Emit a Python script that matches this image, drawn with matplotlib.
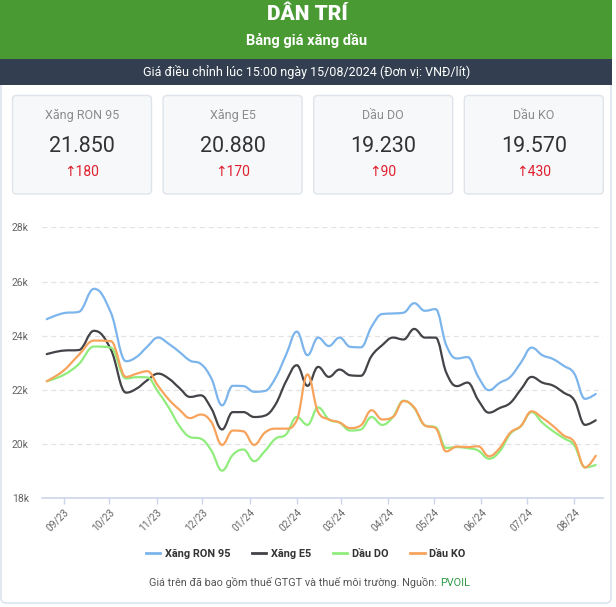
import matplotlib
matplotlib.use("Agg")
import matplotlib.pyplot as plt
import matplotlib.dates as mdates
from matplotlib.path import Path
from matplotlib.patches import PathPatch, FancyBboxPatch, Rectangle
from matplotlib.lines import Line2D
import pandas as pd

plt.rcParams['font.family'] = ['Roboto', 'DejaVu Sans']

# ---------------- data ----------------
dates = ["2023-08-21", "2023-09-01", "2023-09-11", "2023-09-21", "2023-10-02", "2023-10-12",
         "2023-10-19", "2023-10-26", "2023-11-02", "2023-11-09", "2023-11-16", "2023-11-23",
         "2023-11-30", "2023-12-07", "2023-12-14", "2023-12-21", "2023-12-28", "2024-01-04",
         "2024-01-11", "2024-01-18", "2024-01-25", "2024-02-01", "2024-02-08", "2024-02-15",
         "2024-02-22", "2024-02-29", "2024-03-07", "2024-03-14", "2024-03-21", "2024-03-28",
         "2024-04-04", "2024-04-11", "2024-04-18", "2024-04-25", "2024-05-02", "2024-05-09",
         "2024-05-16", "2024-05-23", "2024-05-30", "2024-06-06", "2024-06-13", "2024-06-20",
         "2024-06-27", "2024-07-04", "2024-07-11", "2024-07-18", "2024-07-25", "2024-08-01",
         "2024-08-08", "2024-08-15"]

ron95 = [24610, 24830, 24880, 25730, 24860, 23060, 23220, 23600, 23930, 23700, 23400, 23080,
         22960, 22420, 21430, 22150, 22140, 21930, 21960, 22440, 23300, 24150, 23280, 23930,
         23620, 23930, 23590, 23570, 24330, 24800, 24820, 24850, 25200, 24920, 24980, 23650,
         23160, 23210, 22480, 21990, 22260, 22480, 23010, 23560, 23280, 23140, 22890, 22600,
         21670, 21850]
e5 = [23320, 23450, 23470, 24180, 23500, 21900, 22050, 22360, 22600, 22420, 22070, 21740,
      21800, 21310, 20540, 21180, 21180, 21000, 21050, 21460, 22320, 22910, 22150, 22850,
      22480, 22750, 22540, 22520, 23250, 23650, 23930, 23860, 24250, 23930, 23930, 22640,
      22140, 22270, 21620, 21160, 21330, 21520, 22020, 22480, 22270, 22160, 21900, 21620,
      20710, 20880]
dau_do = [22320, 22550, 22950, 23600, 23560, 22420, 22470, 22460, 21930, 21350, 20670, 20260,
          20200, 19760, 19020, 19600, 19800, 19370, 19740, 20200, 20360, 21000, 20710, 21350,
          20910, 20790, 20500, 20540, 21000, 20710, 21000, 21600, 21330, 20690, 20620, 19860,
          19890, 19850, 19760, 19460, 19730, 20380, 20670, 21180, 20790, 20480, 20220, 19950,
          19140, 19230]
dau_ko = [22320, 22710, 23290, 23820, 23800, 22480, 22600, 22690, 22150, 21650, 21270, 20960,
          21090, 20810, 19970, 20500, 20470, 19970, 20420, 20570, 20570, 20880, 22570, 21180,
          20910, 20800, 20590, 20690, 21250, 20910, 21000, 21590, 21350, 20690, 20590, 19730,
          19910, 19890, 19920, 19550, 19850, 20420, 20670, 21210, 20970, 20670, 20320, 20070,
          19140, 19570]

series_names = ["Xăng RON 95", "Xăng E5", "Dầu DO", "Dầu KO"]
series_values = [ron95, e5, dau_do, dau_ko]
series_colors = ["#7cb5ec", "#434348", "#90ed7d", "#f7a35c"]

card_labels = ["Xăng RON 95", "Xăng E5", "Dầu DO", "Dầu KO"]
card_prices = ["21.850", "20.880", "19.230", "19.570"]
card_changes = ["180", "170", "90", "430"]

y_ticks = [18000, 20000, 22000, 24000, 26000, 28000]
y_tick_labels = ["18k", "20k", "22k", "24k", "26k", "28k"]


# ---------------- helpers ----------------
def spline_path(xs, ys, smoothing=1.5):
    """Highcharts-like spline through the data points (cubic Bezier)."""
    n = len(xs)
    lc = [(xs[i], ys[i]) for i in range(n)]
    rc = [(xs[i], ys[i]) for i in range(n)]
    d = smoothing + 1
    for i in range(1, n - 1):
        px, py = xs[i], ys[i]
        lx, ly = xs[i - 1], ys[i - 1]
        nx, ny = xs[i + 1], ys[i + 1]
        lcx = (smoothing * px + lx) / d
        lcy = (smoothing * py + ly) / d
        rcx = (smoothing * px + nx) / d
        rcy = (smoothing * py + ny) / d
        corr = 0.0
        if rcx != lcx:
            corr = (rcy - lcy) * (rcx - px) / (rcx - lcx) + py - rcy
        lcy += corr
        rcy += corr
        if lcy > ly and lcy > py:
            lcy = max(ly, py); rcy = 2 * py - lcy
        elif lcy < ly and lcy < py:
            lcy = min(ly, py); rcy = 2 * py - lcy
        if rcy > ny and rcy > py:
            rcy = max(ny, py); lcy = 2 * py - rcy
        elif rcy < ny and rcy < py:
            rcy = min(ny, py); lcy = 2 * py - rcy
        lc[i] = (lcx, lcy)
        rc[i] = (rcx, rcy)
    verts = [(xs[0], ys[0])]
    codes = [Path.MOVETO]
    for i in range(1, n):
        verts += [rc[i - 1], lc[i], (xs[i], ys[i])]
        codes += [Path.CURVE4] * 3
    return Path(verts, codes)


# ---------------- figure ----------------
W, H = 616, 607
fig = plt.figure(figsize=(W / 100, H / 100), dpi=100)
fig.patch.set_facecolor("white")

bg = fig.add_axes([0, 0, 1, 1], zorder=0)
bg.set_xlim(0, W)
bg.set_ylim(H, 0)
bg.axis("off")

# outer frame
bg.add_patch(FancyBboxPatch((1, -20), 610, 623, boxstyle="round,pad=0,rounding_size=5",
                            facecolor="white", edgecolor="#dde4ec", lw=1.2))
# header
bg.add_patch(Rectangle((0, 0), 612, 59, facecolor="#4a9a34", edgecolor="none"))
bg.add_patch(Rectangle((0, 59), 612, 26, facecolor="#333f50", edgecolor="none"))
bg.text(307, 15, "DÂN TRÍ", ha="center", va="center", color="white", fontsize=15,
        fontweight="black")
bg.text(307, 40, "Bảng giá xăng dầu", ha="center", va="center", color="white",
        fontsize=10.5, fontweight="bold")
bg.text(307, 72, "Giá điều chỉnh lúc 15:00 ngày 15/08/2024 (Đơn vị: VNĐ/lít)",
        ha="center", va="center", color="white", fontsize=9)

# cards
for i in range(4):
    x0 = 12.5 + i * 150.6
    bg.add_patch(FancyBboxPatch((x0, 95.5), 139, 98.5, boxstyle="round,pad=0,rounding_size=4",
                                facecolor="#f6f8fa", edgecolor="#dfe4ea", lw=1))
    cx = x0 + 69.5
    bg.text(cx, 115.5, card_labels[i], ha="center", va="center", color="#8c8c8c", fontsize=9)
    bg.text(cx, 146, card_prices[i], ha="center", va="center", color="#333333", fontsize=15.5)
    bg.text(cx, 172, "\u2191" + card_changes[i], ha="center", va="center", color="#e0202e",
            fontsize=10)

# footer
bg.text(437, 583, "Giá trên đã bao gồm thuế GTGT và thuế môi trường. Nguồn:", ha="right",
        va="center", color="#555555", fontsize=7.8)
bg.text(440, 583, "PVOIL", ha="left", va="center", color="#2f9a46", fontsize=7.8)

# ---------------- chart ----------------
ax_left, ax_right = 42, 603
ax_top, ax_bottom = 227.3, 498.3
ax = fig.add_axes([ax_left / W, (H - ax_bottom) / H, (ax_right - ax_left) / W,
                   (ax_bottom - ax_top) / H], zorder=1)
ax.set_facecolor("none")

xnum = mdates.date2num(pd.to_datetime(dates))
handles = []
for name, vals, col in zip(series_names, series_values, series_colors):
    ax.add_patch(PathPatch(spline_path(list(xnum), vals), facecolor="none", edgecolor=col,
                           lw=1.6, capstyle="round", joinstyle="round", zorder=3))
    handles.append(Line2D([], [], color=col, lw=2, label=name))

ref = mdates.date2num(pd.Timestamp("2023-09-01"))
ax.set_xlim(ref - 14.1, ref + 353.8)
ax.set_ylim(18000, 28000)

ax.set_yticks(y_ticks)
ax.set_yticklabels(y_tick_labels)
ax.yaxis.grid(True, color="#e3e3e3", linestyle=(0, (4, 3)), lw=0.9)
ax.set_axisbelow(True)
ax.tick_params(axis="y", length=0, pad=9.5, labelsize=7.5, labelcolor="#666666")

ax.xaxis.set_major_locator(mdates.MonthLocator())
ax.xaxis.set_major_formatter(mdates.DateFormatter("%m/%y"))
ax.tick_params(axis="x", length=4, width=1, color="#ccd6eb", labelsize=7.3,
               labelcolor="#666666", pad=2, labelrotation=45)
for lbl in ax.get_xticklabels():
    lbl.set_ha("right")
    lbl.set_rotation_mode("anchor")

for s in ["top", "right", "left"]:
    ax.spines[s].set_visible(False)
ax.spines["bottom"].set_color("#ccd6eb")
ax.spines["bottom"].set_linewidth(1.2)

fig.legend(handles=handles, loc="center", bbox_to_anchor=(306 / W, 1 - 554 / H), ncol=4,
           frameon=False, handlelength=1.3, handletextpad=0.45, columnspacing=2.0,
           prop={"size": 7.8, "weight": "bold"}, labelcolor="#333333")

fig.savefig("out.png", dpi=100, facecolor="white")
